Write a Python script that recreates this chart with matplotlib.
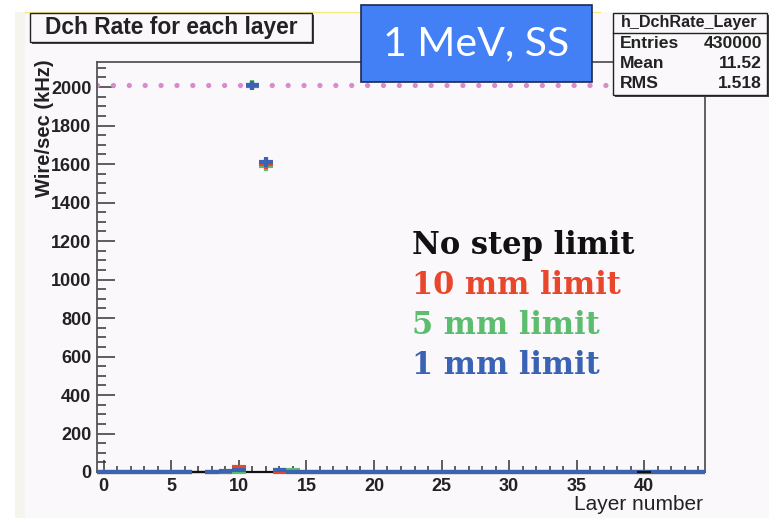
import numpy as np
import matplotlib.pyplot as plt
from matplotlib.patches import Rectangle
from matplotlib.ticker import MultipleLocator

W, H = 769, 518

# rate per layer (kHz), layers 0..44
layers = np.arange(45)
rate_1mm = np.zeros(45)
rate_1mm[[9, 10, 11, 12, 13]] = [7, 8, 2008, 1612, 10]
rate_5mm = np.zeros(45)
rate_5mm[[9, 11, 12, 13, 14]] = [2, 2011, 1590, 12, 8]
rate_10mm = np.zeros(45)
rate_10mm[[10, 11, 12]] = [24, 2007, 1600]
nolimit_layers = np.array([7, 11, 12, 40])
nolimit_rate = np.array([0, 0, 0, 0])
wire_limit = 2012

stats_name = "h_DchRate_Layer"
stats_rows = [("Entries", "430000"), ("Mean", "11.52"), ("RMS", "1.518")]

legend_items = [("No step limit", "#111111"), ("10 mm limit", "#e9472c"),
                ("5 mm limit", "#5cbd6f"), ("1 mm limit", "#3b63b3")]


def fx(px):
    return px / W


def fy(py):
    return 1 - py / H


fig = plt.figure(figsize=(W / 100, H / 100), dpi=100)
fig.patch.set_facecolor("white")

# canvas background and the strip on its left
fig.patches.append(Rectangle((fx(15), 0), fx(10), fy(12), transform=fig.transFigure,
                             facecolor="#f6f4ee", edgecolor="none", zorder=-2))
fig.patches.append(Rectangle((fx(25), 0), 1 - fx(25), fy(12), transform=fig.transFigure,
                             facecolor="#faf8fa", edgecolor="none", zorder=-2))
fig.lines.append(plt.Line2D([fx(25), fx(600)], [fy(12), fy(12)], transform=fig.transFigure,
                            color="#f3ea80", lw=1, zorder=-1))

ax = fig.add_axes([fx(97), fy(472), fx(705) - fx(97), fy(62) - fy(472)])
ax.set_facecolor("#faf8fa")
ax.set_xlim(-0.5, 44.5)
ax.set_ylim(0, 2130)

for s in ax.spines.values():
    s.set_color("#555555")
    s.set_linewidth(1.3)

ax.xaxis.set_major_locator(MultipleLocator(5))
ax.xaxis.set_minor_locator(MultipleLocator(1))
ax.yaxis.set_major_locator(MultipleLocator(200))
ax.yaxis.set_minor_locator(MultipleLocator(50))
ax.set_xticks([0, 5, 10, 15, 20, 25, 30, 35, 40])
ax.tick_params(axis="both", which="both", direction="in", color="#333333", width=1.1)
ax.tick_params(axis="x", which="major", length=9, pad=4)
ax.tick_params(axis="x", which="minor", length=4.5)
ax.tick_params(axis="y", which="major", length=13, pad=4)
ax.tick_params(axis="y", which="minor", length=6.5)
ax.tick_params(top=False, right=False, which="both")
for lab in ax.get_xticklabels() + ax.get_yticklabels():
    lab.set_fontsize(13)
    lab.set_fontweight("bold")
    lab.set_color("#222222")
    lab.set_family("Liberation Sans")

ax.axhline(wire_limit, color="#d98ccb", lw=3.8, ls=(0, (0.01, 3.0)),
           dash_capstyle="round", zorder=2)

# histograms drawn as points with bin-wide error bars;
# layer 7 only has an entry for the run without step limit
keep = layers != nolimit_layers[0]
series = [(rate_5mm, "#5cbd6f"), (rate_10mm, "#e9472c"), (rate_1mm, "#3b63b3")]
for z, (rate, col) in enumerate(series):
    yerr = np.where(rate[keep] > 100, 25, 0)
    ax.errorbar(layers[keep], rate[keep], xerr=0.5, yerr=yerr, fmt="none",
                ecolor=col, elinewidth=3, zorder=4 + z, clip_on=False)
ax.errorbar(nolimit_layers, nolimit_rate, xerr=0.5, fmt="none",
            ecolor="#111111", elinewidth=1.6, zorder=3, clip_on=False)
ax.errorbar(nolimit_layers[[0, 3]], nolimit_rate[[0, 3]], xerr=0.5, fmt="none",
            ecolor="#111111", elinewidth=1.6, zorder=8, clip_on=False)

fig.text(fx(45), fy(128), "Wire/sec (kHz)", rotation=90, ha="center", va="center",
         fontsize=14.5, fontweight="bold", family="Liberation Sans", color="#222222")
fig.text(fx(703), fy(505), "Layer number", ha="right", va="center",
         fontsize=15, family="Liberation Sans", color="#222222")

# title box
fig.patches.append(Rectangle((fx(32), fy(44)), fx(282), fy(15) - fy(44), transform=fig.transFigure,
                             facecolor="#444444", edgecolor="none", zorder=8))
fig.patches.append(Rectangle((fx(30), fy(42)), fx(282), fy(13) - fy(42), transform=fig.transFigure,
                             facecolor="#faf8fa", edgecolor="#222222", lw=1, zorder=9))
fig.text(fx(171), fy(27.5), "Dch Rate for each layer", ha="center", va="center",
         fontsize=16.4, fontweight="bold", family="Liberation Sans", color="#222222", zorder=10)

# stats box
fig.patches.append(Rectangle((fx(615), fy(97)), fx(154), fy(15) - fy(97), transform=fig.transFigure,
                             facecolor="#444444", edgecolor="none", zorder=8))
fig.patches.append(Rectangle((fx(613), fy(95)), fx(154), fy(13) - fy(95), transform=fig.transFigure,
                             facecolor="#faf8fa", edgecolor="#222222", lw=1, zorder=9))
fig.lines.append(plt.Line2D([fx(613), fx(767)], [fy(33), fy(33)], transform=fig.transFigure,
                            color="#222222", lw=1, zorder=10))
fig.text(fx(689), fy(23), stats_name, ha="center", va="center", fontsize=11.6,
         family="Liberation Sans", fontweight="bold", color="#222222", zorder=10)
for i, (name, val) in enumerate(stats_rows):
    yy = fy(44 + i * 20)
    fig.text(fx(620), yy, name, ha="left", va="center", fontsize=12.6,
             family="Liberation Sans", fontweight="bold", color="#222222", zorder=10)
    fig.text(fx(762), yy, val, ha="right", va="center", fontsize=12.6,
             family="Liberation Sans", fontweight="bold", color="#222222", zorder=10)

# energy / material label
fig.patches.append(Rectangle((fx(361), fy(82)), fx(231), fy(5) - fy(82), transform=fig.transFigure,
                             facecolor="#4480f5", edgecolor="#1a2a55", lw=1.2, zorder=11))
fig.text(fx(476), fy(44), "1 MeV, SS", ha="center", va="center", fontsize=29.5,
         family="Lato", color="white", zorder=12)

# legend
for i, (label, col) in enumerate(legend_items):
    fig.text(fx(412), fy(254 + i * 40), label, ha="left", va="baseline", fontsize=22,
             family="DejaVu Serif", fontweight="bold", color=col, zorder=12)

fig.savefig("out.png", dpi=100, facecolor=fig.get_facecolor())
